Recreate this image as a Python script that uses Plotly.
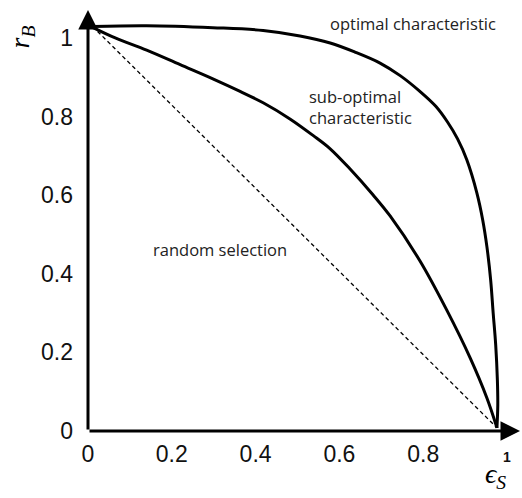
import plotly.graph_objects as go

# data
opt_x = [0.011, 0.140, 0.298, 0.418, 0.506, 0.578, 0.637, 0.697, 0.745, 0.792, 0.830, 0.858, 0.882,
         0.904, 0.928, 0.942, 0.952, 0.961, 0.967, 0.973, 0.977, 0.978, 0.976]
opt_y = [1.029, 1.031, 1.026, 1.019, 1.005, 0.987, 0.964, 0.936, 0.904, 0.864, 0.826, 0.786, 0.743,
         0.690, 0.606, 0.537, 0.469, 0.384, 0.300, 0.219, 0.130, 0.066, 0.008]

sub_x = [0.011, 0.065, 0.140, 0.220, 0.298, 0.363, 0.418, 0.482, 0.537, 0.578, 0.625, 0.680, 0.721,
         0.792, 0.856, 0.912, 0.952, 0.976]
sub_y = [1.027, 1.000, 0.969, 0.932, 0.896, 0.864, 0.835, 0.794, 0.752, 0.718, 0.667, 0.601, 0.547,
         0.433, 0.308, 0.186, 0.084, 0.008]

rand_x = [0.011, 0.976]
rand_y = [1.029, 0.008]

x_ticks = [0, 0.2, 0.4, 0.6, 0.8, 1]
x_tick_text = ["0", "0.2", "0.4", "0.6", "0.8", "<span style='font-size:14px'><b>1</b></span>"]
y_ticks = [0, 0.2, 0.4, 0.6, 0.8, 1]
y_tick_text = ["0", "0.2", "0.4", "0.6", "0.8", "1"]

XMAX = 1.031
YMAX = 1.071

fig = go.Figure()
fig.add_trace(go.Scatter(x=opt_x, y=opt_y, mode="lines",
                         line=dict(color="black", width=3, shape="spline", smoothing=1.0), hoverinfo="skip"))
fig.add_trace(go.Scatter(x=sub_x, y=sub_y, mode="lines",
                         line=dict(color="black", width=3, shape="spline", smoothing=1.0), hoverinfo="skip"))
fig.add_trace(go.Scatter(x=rand_x, y=rand_y, mode="lines",
                         line=dict(color="black", width=1.3, dash="4px,3px"), hoverinfo="skip"))

# axis arrows
fig.add_annotation(x=0, y=YMAX, ax=0, ay=0, xref="x", yref="y", axref="x", ayref="y",
                   text="", showarrow=True, arrowhead=2, arrowsize=1.3, arrowwidth=3, arrowcolor="black")
fig.add_annotation(x=XMAX, y=0, ax=0, ay=0, xref="x", yref="y", axref="x", ayref="y",
                   text="", showarrow=True, arrowhead=2, arrowsize=1.3, arrowwidth=3, arrowcolor="black")

txt_font = dict(family="Open Sans", size=16.5, color="#222")
fig.add_annotation(text="optimal characteristic", showarrow=False, font=txt_font,
                   x=0.776, y=1.036, xref="x", yref="y", xanchor="center", yanchor="middle")
fig.add_annotation(text="sub-optimal<br>characteristic", showarrow=False, font=txt_font, align="left",
                   x=0.523, y=0.824, xref="x", yref="y", xanchor="left", yanchor="middle")
fig.add_annotation(text="random selection", showarrow=False, font=txt_font,
                   x=0.315, y=0.463, xref="x", yref="y", xanchor="center", yanchor="middle")

math_font = dict(family="Liberation Serif", size=28, color="black")
fig.add_annotation(text="<i>r<sub>B</sub></i>", showarrow=False, font=math_font, textangle=-90,
                   x=-0.155, y=0.935, xref="paper", yref="paper", xanchor="center", yanchor="middle")
fig.add_annotation(text="<i>ϵ<sub>S</sub></i>", showarrow=False, font=math_font,
                   x=0.914, y=-0.106, xref="paper", yref="paper", xanchor="left", yanchor="middle")

tick_font = dict(family="Liberation Sans", size=23, color="#111")
fig.update_layout(
    width=522, height=498,
    margin=dict(l=88, r=2, t=10, b=67),
    paper_bgcolor="white", plot_bgcolor="white",
    showlegend=False,
    xaxis=dict(range=[0, XMAX], showgrid=False, zeroline=False, showline=False, automargin=False,
               tickvals=x_ticks, ticktext=x_tick_text, ticks="", tickfont=tick_font,
               ticklabelstandoff=7),
    yaxis=dict(range=[0, YMAX], showgrid=False, zeroline=False, showline=False, automargin=False,
               tickvals=y_ticks, ticktext=y_tick_text, ticks="", tickfont=tick_font,
               ticklabelstandoff=14),
)

fig.write_html("out.html")
